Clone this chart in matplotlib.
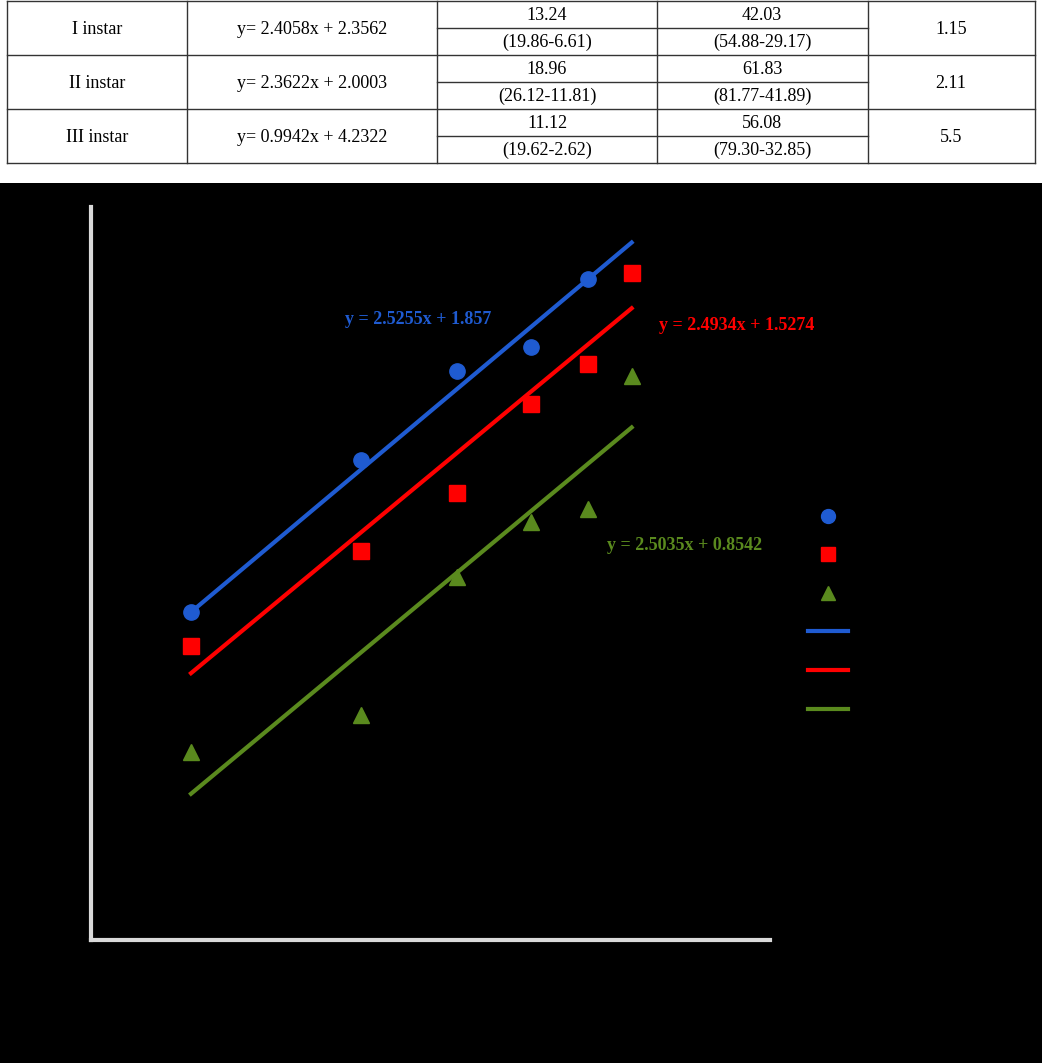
import matplotlib
matplotlib.use("Agg")
import matplotlib.pyplot as plt
from matplotlib.lines import Line2D
from matplotlib.patches import Rectangle

W, H = 1042, 1063

# ---- table data ----
instars = ["I instar", "II instar", "III instar"]
equations = ["y= 2.4058x + 2.3562", "y= 2.3622x + 2.0003", "y= 0.9942x + 4.2322"]
lc50 = ["13.24", "18.96", "11.12"]
lc50_ci = ["(19.86-6.61)", "(26.12-11.81)", "(19.62-2.62)"]
lc90 = ["42.03", "61.83", "56.08"]
lc90_ci = ["(54.88-29.17)", "(81.77-41.89)", "(79.30-32.85)"]
chi = ["1.15", "2.11", "5.5"]

# ---- chart data ----
x_blue = [0.300, 0.613, 0.790, 0.927, 1.032]
y_blue = [2.615, 3.460, 3.954, 4.087, 4.465]
x_all = [0.300, 0.613, 0.790, 0.927, 1.032, 1.113]
y_red = [2.426, 2.954, 3.276, 3.771, 3.993, 4.499]
y_green = [1.837, 2.043, 2.810, 3.115, 3.187, 3.926]
fits = [(2.5255, 1.857), (2.4934, 1.5274), (2.5035, 0.8542)]
fit_labels = ["y = 2.5255x + 1.857", "y = 2.4934x + 1.5274", "y = 2.5035x + 0.8542"]
colors = ["#1f5bd1", "#ff0000", "#5a8a1e"]

fig = plt.figure(figsize=(W / 100, H / 100), dpi=100)
fig.patch.set_facecolor("white")

def fx(p): return p / W
def fy(p): return 1 - p / H

def hline(x0, x1, y, **kw):
    fig.add_artist(Line2D([fx(x0), fx(x1)], [fy(y), fy(y)], color="#333", lw=1, **kw))

def vline(x, y0, y1):
    fig.add_artist(Line2D([fx(x), fx(x)], [fy(y0), fy(y1)], color="#333", lw=1))

cols = [7, 187, 437, 657, 868, 1035]
rows = [1, 55, 109, 163]
for y in rows:
    hline(7, 1035, y)
for r in range(3):
    hline(437, 868, rows[r] + 27)
for x in cols:
    vline(x, 1, 163)

tkw = dict(ha="center", va="center", fontsize=13, family="Liberation Serif")
for i in range(3):
    y0 = rows[i]
    fig.text(fx(97), fy(y0 + 28), instars[i], **tkw)
    fig.text(fx(312), fy(y0 + 28), equations[i], **tkw)
    fig.text(fx(547), fy(y0 + 14), lc50[i], **tkw)
    fig.text(fx(547), fy(y0 + 41), lc50_ci[i], **tkw)
    fig.text(fx(762), fy(y0 + 14), lc90[i], **tkw)
    fig.text(fx(762), fy(y0 + 41), lc90_ci[i], **tkw)
    fig.text(fx(951), fy(y0 + 28), chi[i], **tkw)

# black chart background
fig.add_artist(Rectangle((0, 0), 1, fy(183), transform=fig.transFigure,
                         facecolor="black", edgecolor="none", zorder=0))

# axes
sx, sy = 542.0, 180.0
x_l = 0.300 - 100 / sx
x_r = x_l + (770 - 91) / sx
y_b = 0.793
y_t = y_b + (940 - 207) / sy
ax = fig.add_axes([fx(91), fy(940), fx(770) - fx(91), fy(207) - fy(940)])
ax.set_facecolor("black")
ax.set_xlim(x_l, x_r)
ax.set_ylim(y_b, y_t)
for s in ["top", "right"]:
    ax.spines[s].set_visible(False)
for s in ["left", "bottom"]:
    ax.spines[s].set_color("#d9d9d9")
    ax.spines[s].set_linewidth(3)
ax.set_xticks([]); ax.set_yticks([])

ax.plot(x_blue, y_blue, "o", color=colors[0], ms=11, zorder=3)
ax.plot(x_all, y_red, "s", color=colors[1], ms=11, zorder=3)
ax.plot(x_all, y_green, "^", color=colors[2], ms=11, zorder=3)
xs = [x_all[0], x_all[-1]]
for (m, b), c in zip(fits, colors):
    ax.plot(xs, [m * v + b for v in xs], color=c, lw=3, zorder=2)

ekw = dict(fontsize=13, family="Liberation Serif", weight="bold", va="center")
fig.text(fx(418), fy(320), fit_labels[0], color=colors[0], ha="center", **ekw)
fig.text(fx(737), fy(326), fit_labels[1], color=colors[1], ha="center", **ekw)
fig.text(fx(685), fy(545), fit_labels[2], color=colors[2], ha="center", **ekw)

# legend (labels invisible in reference)
for mk, yy, c in zip(["o", "s", "^"], [516, 554, 593], colors):
    fig.add_artist(Line2D([fx(828)], [fy(yy)], marker=mk, color=c, ms=10, ls="none"))
for yy, c in zip([631, 670, 709], colors):
    fig.add_artist(Line2D([fx(808), fx(848)], [fy(yy), fy(yy)], color=c, lw=3))

fig.savefig("out.png", dpi=100, facecolor=fig.get_facecolor())
